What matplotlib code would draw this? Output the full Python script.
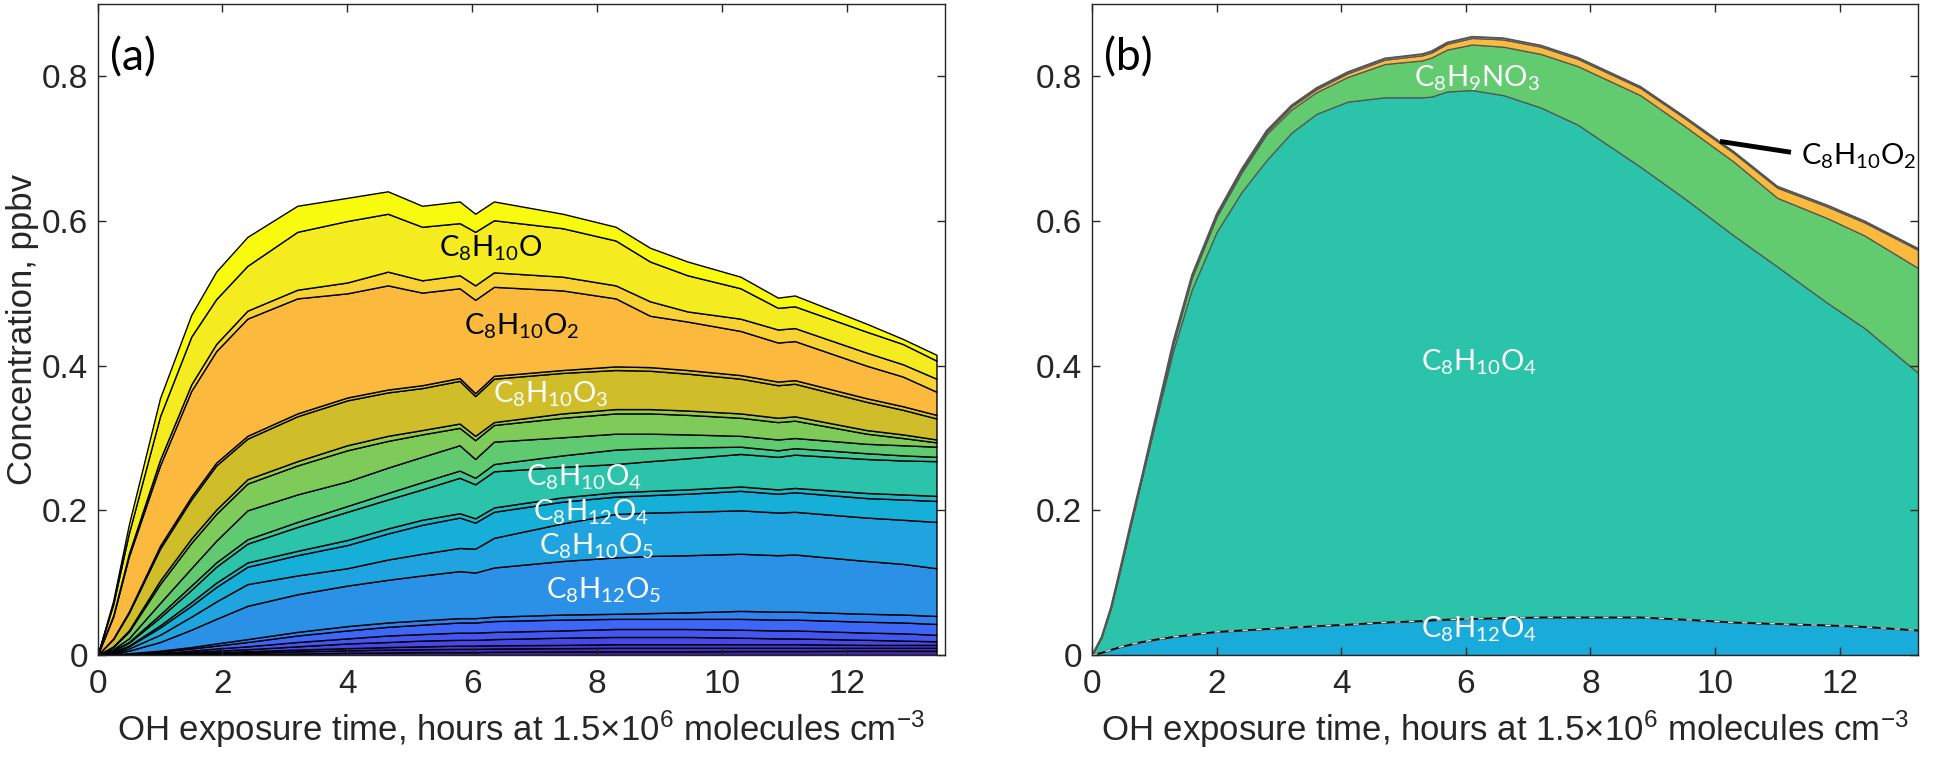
import matplotlib
matplotlib.use('Agg')
import matplotlib.pyplot as plt
import numpy as np

plt.rcParams['font.family'] = ['Liberation Sans', 'DejaVu Sans']

# ---------------- panel (a) ----------------
# time points (hours) and the upper edge of each stacked layer (ppbv), bottom -> top
t_a = [0, 0.25, 0.5, 1.0, 1.5, 1.9, 2.4, 3.2, 4.0, 4.65, 5.2, 5.8, 6.05, 6.35,
       7.45, 8.3, 8.85, 9.45, 10.3, 10.9, 11.17, 12.32, 12.9, 13.44]

minor1 = [0, 0, .0001, .0003, .0007, .001, .0015, .002, .003, .0035, .004, .004, .004, .0045,
          .005, .005, .005, .005, .0055, .0055, .0055, .006, .006, .006]
minor2 = [0, .0001, .0003, .0008, .0016, .0024, .0034, .005, .0065, .0075, .008, .0085, .0085, .009,
          .0095, .010, .010, .010, .010, .010, .010, .010, .010, .010]
minor3 = [0, .0002, .0005, .0013, .0026, .0037, .0052, .0075, .0095, .011, .012, .013, .013, .0135,
          .014, .015, .015, .015, .015, .015, .015, .014, .014, .014]
minor4 = [0, .0003, .0008, .002, .004, .006, .008, .012, .016, .018, .020, .021, .021, .022,
          .024, .025, .025, .025, .024, .023, .023, .021, .020, .019]
minor5 = [0, .0005, .0012, .003, .006, .009, .012, .018, .023, .027, .029, .031, .031, .032,
          .034, .036, .036, .036, .035, .034, .034, .031, .030, .028]
minor6 = [0, .0008, .002, .005, .009, .013, .018, .027, .034, .039, .042, .045, .045, .047,
          .049, .050, .050, .050, .050, .049, .049, .046, .045, .043]
minor7 = [0, .001, .0025, .006, .011, .016, .022, .032, .040, .045, .048, .051, .051, .053,
          .056, .057, .058, .059, .061, .060, .060, .057, .056, .054]
c8h12o5 = [0, .002, .006, .018, .035, .050, .068, .084, .096, .104, .110, .116, .114, .121,
           .130, .135, .137, .138, .140, .138, .139, .130, .126, .120]
c8h10o5 = [0, .003, .009, .028, .053, .074, .098, .110, .120, .132, .140, .148, .147, .162,
           .182, .195, .197, .198, .200, .197, .198, .190, .187, .184]
c8h12o4 = [0, .004, .012, .038, .068, .094, .122, .138, .152, .168, .180, .190, .183, .198,
           .212, .219, .221, .223, .227, .223, .225, .217, .215, .213]
minor8 = [0, .0045, .013, .041, .073, .100, .128, .144, .159, .175, .187, .196, .189, .204,
          .218, .225, .227, .229, .233, .229, .231, .224, .222, .220]
c8h10o4 = [0, .006, .017, .052, .090, .122, .154, .177, .198, .215, .229, .245, .236, .254,
           .260, .264, .268, .272, .278, .274, .277, .271, .269, .268]
minor9 = [0, .0065, .018, .056, .096, .128, .160, .184, .206, .224, .239, .255, .245, .264,
          .276, .284, .286, .287, .288, .283, .286, .279, .276, .274]
green1 = [0, .008, .023, .072, .120, .158, .200, .222, .240, .259, .274, .290, .271, .295,
          .301, .306, .306, .305, .303, .298, .300, .292, .290, .288]
green2 = [0, .011, .032, .098, .155, .195, .237, .262, .283, .296, .305, .314, .297, .318,
          .328, .334, .334, .332, .328, .322, .324, .306, .300, .294]
minor10 = [0, .012, .034, .103, .161, .201, .243, .268, .290, .303, .311, .320, .303, .322,
           .334, .340, .340, .338, .334, .328, .330, .311, .305, .298]
c8h10o3 = [0, .022, .058, .147, .215, .262, .299, .330, .352, .363, .369, .379, .358, .382,
           .390, .394, .393, .389, .382, .373, .375, .350, .339, .327]
minor11 = [0, .023, .060, .151, .219, .266, .303, .334, .356, .367, .373, .383, .362, .386,
           .394, .399, .398, .394, .387, .378, .380, .355, .344, .332]
c8h10o2 = [0, .053, .136, .262, .365, .420, .465, .493, .500, .511, .501, .507, .491, .509,
           .504, .493, .469, .461, .448, .432, .434, .400, .385, .364]
minor12 = [0, .055, .140, .270, .374, .430, .476, .505, .515, .530, .518, .525, .511, .529,
           .523, .511, .489, .475, .465, .450, .452, .418, .402, .382]
c8h10o = [0, .070, .168, .330, .440, .492, .538, .585, .600, .610, .592, .597, .585, .601,
          .590, .573, .544, .525, .507, .480, .482, .447, .430, .407]
total_a = [0, .075, .180, .355, .470, .530, .578, .621, .632, .641, .621, .627, .610, .627,
           .610, .592, .563, .544, .523, .494, .497, .458, .437, .415]

edges_a = [minor1, minor2, minor3, minor4, minor5, minor6, minor7, c8h12o5, c8h10o5,
           c8h12o4, minor8, c8h10o4, minor9, green1, green2, minor10, c8h10o3, minor11,
           c8h10o2, minor12, c8h10o, total_a]
colors_a = ['#3e26a8', '#4430c4', '#463cd8', '#4748e8', '#4456f2', '#3e66f7', '#3180f0',
            '#2a91e7', '#1fa4df', '#16afd8', '#1db8c8', '#2bc3a9', '#40c792', '#5fca6f',
            '#7ecb5a', '#98c94b', '#d0bd2a', '#d4bf2c', '#fbb93d', '#f8d234', '#f4ec1f',
            '#f9fb0e']

sub = lambda s: '$\\mathregular{_{%s}}$' % s
labels_a = ['C' + sub('8') + 'H' + sub('10') + 'O',
            'C' + sub('8') + 'H' + sub('10') + 'O' + sub('2'),
            'C' + sub('8') + 'H' + sub('10') + 'O' + sub('3'),
            'C' + sub('8') + 'H' + sub('10') + 'O' + sub('4'),
            'C' + sub('8') + 'H' + sub('12') + 'O' + sub('4'),
            'C' + sub('8') + 'H' + sub('10') + 'O' + sub('5'),
            'C' + sub('8') + 'H' + sub('12') + 'O' + sub('5')]
label_x_a = [6.3, 6.8, 7.26, 7.8, 7.9, 8.0, 8.1]
label_y_a = [0.562, 0.454, 0.361, 0.246, 0.198, 0.151, 0.089]
label_c_a = ['black', 'black', 'white', 'white', 'white', 'white', 'white']

# ---------------- panel (b) ----------------
t_b = [0, 0.15, 0.3, 0.45, 0.6, 0.8, 1.0, 1.3, 1.6, 2.0, 2.4, 2.8, 3.2, 3.6, 4.1, 4.7,
       5.3, 5.45, 5.7, 6.1, 6.6, 7.2, 7.8, 8.8, 9.5, 10.3, 11.0, 11.8, 12.4, 13.26]
b_c8h12o4 = [0, .003, .007, .011, .014, .018, .021, .025, .028, .032, .034, .036, .038, .040, .042,
             .045, .047, .048, .049, .050, .051, .052, .052, .052, .049, .045, .043, .041, .039, .034]
b_c8h10o4 = [0, .024, .064, .117, .172, .245, .316, .420, .505, .585, .640, .684, .722, .748, .765,
             .771, .771, .772, .779, .781, .774, .757, .733, .675, .632, .580, .537, .487, .452, .390]
b_c8h9no3 = [0, .025, .0655, .1185, .174, .2455, .3185, .429, .521, .606, .667, .720, .754, .778, .799,
             .817, .822, .826, .837, .844, .841, .831, .814, .774, .732, .682, .632, .604, .580, .535]
b_c8h10o2 = [0, .025, .0655, .119, .175, .2465, .320, .431, .523, .608, .670, .723, .758, .782, .804,
             .823, .829, .833, .845, .853, .851, .841, .824, .784, .743, .694, .646, .620, .598, .560]
b_total = [0, .025, .066, .120, .176, .248, .322, .433, .525, .610, .672, .725, .760, .784, .806,
           .825, .831, .835, .847, .855, .853, .843, .826, .786, .745, .696, .648, .622, .600, .562]

edges_b = [b_c8h12o4, b_c8h10o4, b_c8h9no3, b_c8h10o2, b_total]
colors_b = ['#19acdb', '#2bc3a9', '#62cb70', '#fbb93d', '#f4f4f4']

labels_b = ['C' + sub('8') + 'H' + sub('9') + 'NO' + sub('3'),
            'C' + sub('8') + 'H' + sub('10') + 'O' + sub('4'),
            'C' + sub('8') + 'H' + sub('12') + 'O' + sub('4')]
label_x_b = [6.18, 6.21, 6.21]
label_y_b = [0.797, 0.405, 0.036]

xlabel = 'OH exposure time, hours at 1.5\u00d710$\\mathregular{^{6}}$ molecules cm$\\mathregular{^{-3}}$'
axcol = '#262626'
lab_font = ['Lato', 'DejaVu Sans']

fig = plt.figure(figsize=(19.4, 7.62), dpi=100)
ax1 = fig.add_axes([0.0503, 0.1404, 0.4366, 0.8544])
ax2 = fig.add_axes([0.5629, 0.1404, 0.4258, 0.8544])

lower = np.zeros(len(t_a))
for top, col in zip(edges_a, colors_a):
    ax1.fill_between(t_a, lower, top, facecolor=col, edgecolor='black', linewidth=1.0)
    lower = np.asarray(top)

lower = np.zeros(len(t_b))
for top, col in zip(edges_b, colors_b):
    ax2.fill_between(t_b, lower, top, facecolor=col, edgecolor='#555555', linewidth=0.9)
    lower = np.asarray(top)
# the lowest boundary in (b) shows as black with white dashes
ax2.plot(t_b, b_c8h12o4, color='black', lw=1.2)
ax2.plot(t_b, b_c8h12o4, color='#dddddd', lw=1.0, dashes=(4, 6))
ax2.plot(t_b, b_total, color='#555555', lw=1.0)

for x, y, s, c in zip(label_x_a, label_y_a, labels_a, label_c_a):
    ax1.text(x, y, s, color=c, fontsize=21, ha='center', va='center', family=lab_font)
for x, y, s in zip(label_x_b, label_y_b, labels_b):
    ax2.text(x, y, s, color='white', fontsize=21, ha='center', va='center', family=lab_font)
ax2.plot([10.08, 11.22], [0.710, 0.695], color='black', lw=3.5, solid_capstyle='butt')
ax2.text(11.38, 0.689, 'C' + sub('8') + 'H' + sub('10') + 'O' + sub('2'), color='black',
         fontsize=21, ha='left', va='center', family=lab_font)

ax1.text(0.2, 0.825, '(a)', fontsize=32, ha='left', va='center', family=lab_font)
ax2.text(0.2, 0.825, '(b)', fontsize=32, ha='left', va='center', family=lab_font)

for ax, xmax in ((ax1, 13.57), (ax2, 13.26)):
    ax.set_xlim(0, xmax)
    ax.set_ylim(0, 0.9)
    ax.set_xticks([0, 2, 4, 6, 8, 10, 12])
    ax.set_xticklabels(['0', '2', '4', '6', '8', '10', '12'])
    ax.set_yticks([0, 0.2, 0.4, 0.6, 0.8])
    ax.set_yticklabels(['0', '0.2', '0.4', '0.6', '0.8'])
    ax.tick_params(direction='in', top=True, right=True, length=6, width=1,
                   color=axcol, labelcolor=axcol, labelsize=24)
    ax.tick_params(axis='x', pad=10)
    ax.tick_params(axis='y', pad=7)
    for sp in ax.spines.values():
        sp.set_color(axcol)
        sp.set_linewidth(1.0)
    ax.set_xlabel(xlabel, fontsize=25, color=axcol, labelpad=6)

ax1.set_ylabel('Concentration, ppbv', fontsize=25, color=axcol, labelpad=2)

fig.savefig('out.png', dpi=100)
